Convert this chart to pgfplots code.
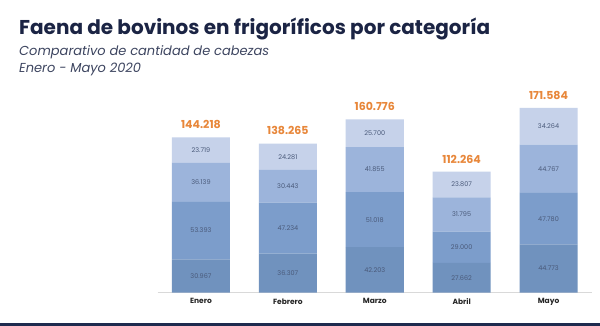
\documentclass[border=0pt]{standalone}
\usepackage{fontspec}
\setmainfont{Poppins}
\usepackage{pgfplots}
\usepackage{pgfplotstable}
\pgfplotsset{compat=1.18}
\definecolor{cA}{HTML}{7092BE}
\definecolor{cB}{HTML}{7C9DCB}
\definecolor{cC}{HTML}{9CB4DB}
\definecolor{cD}{HTML}{C6D2EA}
\definecolor{orng}{HTML}{E8873A}
\definecolor{lbl}{HTML}{4A5A7A}
\definecolor{ttl}{HTML}{1B2444}
\definecolor{navy}{HTML}{1E2A4E}
\pgfplotstableread{
x s1 s2 s3 s4 tot
0 30967 53393 36139 23719 144218
1 36307 47234 30443 24281 138265
2 42203 51018 41855 25700 160776
3 27662 29000 31795 23807 112264
4 44773 47780 44767 34264 171584
}\datatable
\pgfplotsset{
  common/.style={
    at={(157.5pt,33.3pt)}, anchor=south west,
    scale only axis, width=434.5pt, height=199.4pt,
    xmin=-0.5, xmax=4.5, ymin=0, ymax=185000,
    bar width=58pt, clip=false,
    /pgf/number format/.cd, fixed, precision=0, 1000 sep={.}, assume math mode=true,
    /pgfplots/.cd,
  }
}
\begin{document}
\begin{tikzpicture}[x=1pt,y=1pt]
\useasboundingbox (0,0) rectangle (600,326);
\fill[white] (0,0) rectangle (600,326);
\fill[navy] (0,0) rectangle (600,2.5);
\node[anchor=base west, inner sep=0, text=ttl, font=\bfseries\fontsize{20}{24}\selectfont] at (19,291.5) {Faena de bovinos en frigoríficos por categoría};
\node[anchor=base west, inner sep=0, text=ttl!85, font=\itshape\fontsize{13}{15}\selectfont] at (19,270) {Comparativo de cantidad de cabezas};
\node[anchor=base west, inner sep=0, text=ttl!85, font=\itshape\fontsize{13}{15}\selectfont] at (19,253) {Enero - Mayo 2020};
\begin{axis}[
  common,
  ybar stacked,
  axis y line=none, axis x line*=bottom,
  x axis line style={draw=black!15, line width=0.8pt, -},
  xtick={0,1,2,3,4},
  xticklabels={Enero,Febrero,Marzo,Abril,Mayo},
  major tick length=0pt,
  xticklabel style={font=\bfseries\fontsize{7.5}{9}\selectfont, text=black!85, yshift=-2.5pt},
  seg/.style={draw=none, nodes near coords, point meta=explicit,
    every node near coord/.append style={font=\fontsize{6.5}{8}\selectfont, text=lbl, anchor=center}},
]
\addplot[fill=cA, seg] table[x=x, y=s1, meta=s1]{\datatable};
\addplot[fill=cB, seg] table[x=x, y=s2, meta=s2]{\datatable};
\addplot[fill=cC, seg] table[x=x, y=s3, meta=s3]{\datatable};
\addplot[fill=cD, seg] table[x=x, y=s4, meta=s4]{\datatable};
\end{axis}
\begin{axis}[
  common, ybar, hide axis,
]
\addplot[draw=none, fill=none, nodes near coords,
  every node near coord/.append style={font=\bfseries\fontsize{11}{13}\selectfont, text=orng, anchor=south, yshift=5pt}]
  table[x=x, y=tot]{\datatable};
\end{axis}
\end{tikzpicture}
\end{document}
